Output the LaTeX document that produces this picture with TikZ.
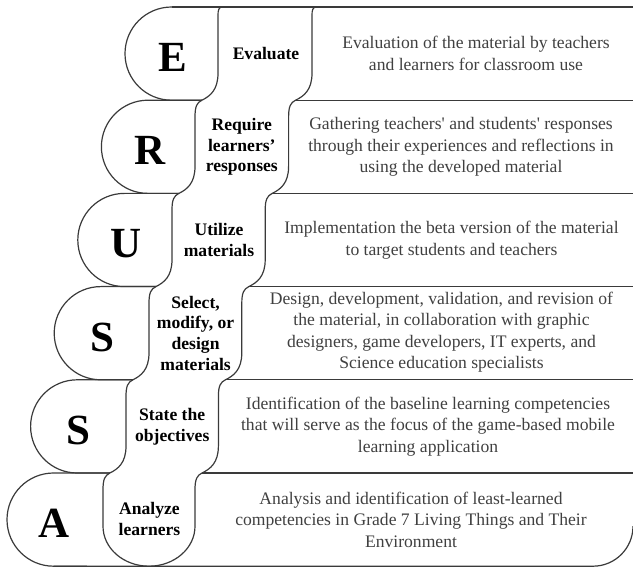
\documentclass[tikz,border=0pt]{standalone}
\usepackage{fontspec}
\setmainfont{Liberation Serif}
\definecolor{linegray}{HTML}{3A3A3A}
\definecolor{descgray}{HTML}{404040}
\tikzset{
  outline/.style={draw=linegray, line width=1.2pt, line join=round},
  letter/.style={font=\fontsize{43}{43}\selectfont\bfseries, inner sep=0pt},
  lbl/.style={font=\fontsize{17.6}{20.8}\selectfont\bfseries, align=center, inner sep=0pt},
  desc/.style={font=\fontsize{17.6}{21.5}\selectfont, text=descgray, align=center, inner sep=0pt}
}
\begin{document}
\begin{tikzpicture}[x=1pt,y=-1pt]
\useasboundingbox (0,0) rectangle (633,567);
% letter shapes
\foreach \i in {0,...,5} {
  \pgfmathsetmacro\tp{7+93.2*\i}
  \pgfmathsetmacro\bt{\tp+93.2}
  \pgfmathsetmacro\cx{171.6-23.6*\i}
  \pgfmathsetmacro\ja{218-23*(\i-1)-16.1}
  \pgfmathsetmacro\jb{218-23*\i-16.1}
  \draw[outline] (\ja,\tp) -- (\cx,\tp) arc[start angle=270, end angle=90, radius=46.6] -- (\jb,\bt);
}
% top line
\draw[outline] (171.6,7) -- (640,7);
% description separators
\foreach \i in {1,...,5} {
  \pgfmathsetmacro\yy{7+93.2*\i}
  \pgfmathsetmacro\xs{312-23.4*(\i-1)-16.4}
  \draw[outline] (\xs,\yy) -- (640,\yy);
}
% bottom line with rounded right corner
\draw[outline] (53.6,566.2) -- (593,566.2) arc[start angle=90, end angle=0, radius=40];
% snake band of labels
\draw[outline] (222,7) .. controls (218.6,7.4) and (218,10) .. (218,16)
  \foreach \i [evaluate=\i as \xx using 218-23*(\i-1), evaluate=\i as \yy using 7+93.2*\i] in {1,...,5} {
    -- (\xx,\yy-27) .. controls (\xx,\yy-10) and (\xx-8.05,\yy-4) .. (\xx-16.1,\yy)
       .. controls (\xx-21.1,\yy+2.5) and (\xx-23,\yy+6) .. (\xx-23,\yy+17) }
  -- (103,526.2) arc[start angle=180, end angle=0, x radius=46, y radius=40]
  \foreach \i [evaluate=\i as \xx using 312-23.4*(\i-1), evaluate=\i as \yy using 7+93.2*\i] in {5,4,3,2,1} {
    -- (\xx-23.4,\yy+17) .. controls (\xx-23.4,\yy+6) and (\xx-21.4,\yy+2.5) .. (\xx-16.4,\yy)
       .. controls (\xx-8.2,\yy-4) and (\xx,\yy-10) .. (\xx,\yy-27) }
  -- (312,16) .. controls (312,10) and (312.6,7.4) .. (316,7);
% letters
\node[letter] (lE) at (173,57.5) {E};
\node[letter] (lR) at (150,150.7) {R};
\node[letter] (lU) at (126.5,243.9) {U};
\node[letter] (lS1) at (102.5,337.1) {S};
\node[letter] (lS2) at (78.7,430.3) {S};
\node[letter] (lA) at (54,523.5) {A};
% labels
\node[lbl] (tE) at (266,53.6) {Evaluate};
\node[lbl] (tR) at (241.8,146.8) {Require\\learners’\\responses};
\node[lbl] (tU) at (219,240) {Utilize\\materials};
\node[lbl] (tS1) at (195.6,333.2) {Select,\\modify, or\\design\\materials};
\node[lbl] (tS2) at (172.2,426.4) {State the\\objectives};
\node[lbl] (tA) at (149.5,518.6) {Analyze\\learners};
% descriptions
\node[desc] (dE) at (476,53.6) {Evaluation of the material by teachers\\and learners for classroom use};
\node[desc] (dR) at (461,146.8) {Gathering teachers\textquotesingle{} and students\textquotesingle{} responses\\through their experiences and reflections in\\using the developed material};
\node[desc] (dU) at (451.5,240) {Implementation the beta version of the material\\to target students and teachers};
\node[desc] (dS1) at (441.5,332.2) {Design, development, validation, and revision of\\the material, in collaboration with graphic\\designers, game developers, IT experts, and\\Science education specialists};
\node[desc] (dS2) at (428,426.4) {Identification of the baseline learning competencies\\that will serve as the focus of the game-based mobile\\learning application};
\node[desc] (dA) at (411,519.6) {Analysis and identification of least-learned\\competencies in Grade 7 Living Things and Their\\Environment};
\end{tikzpicture}
\end{document}
